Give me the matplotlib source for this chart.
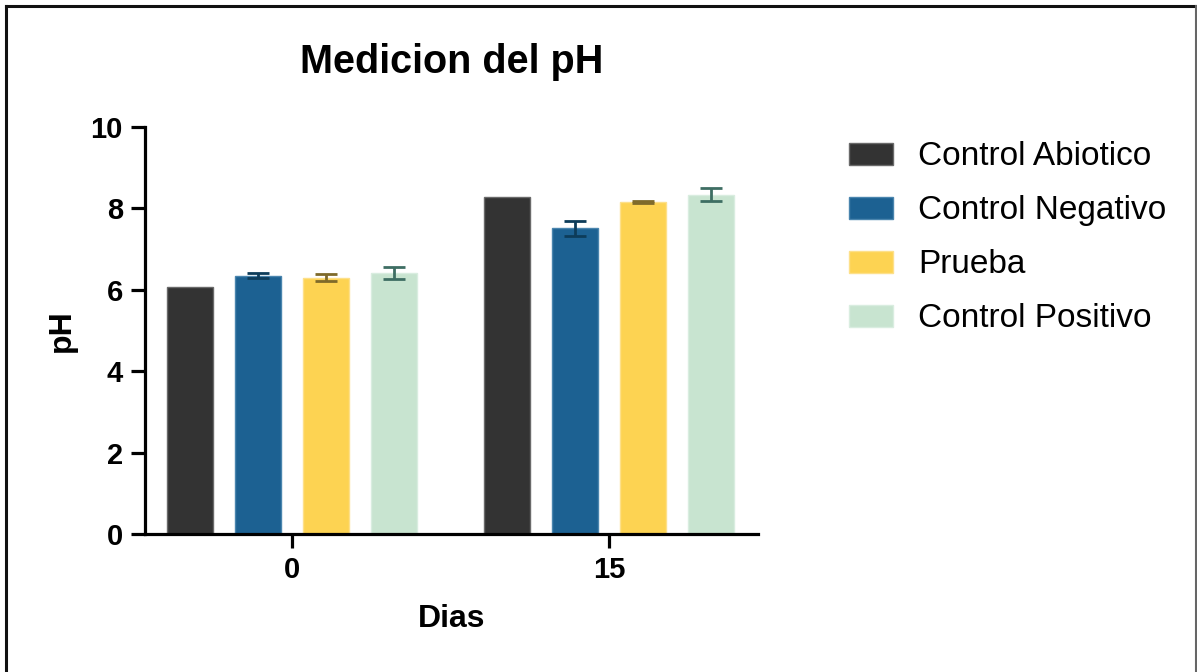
import numpy as np
import matplotlib.pyplot as plt
from matplotlib.lines import Line2D

plt.rcParams['font.family'] = ['Liberation Sans', 'DejaVu Sans']

# mean pH and error per group, days 0 and 15
dias = ['0', '15']
grupos = ['Control Abiotico', 'Control Negativo', 'Prueba', 'Control Positivo']
ph_media = [
    [6.07, 8.27],   # Control Abiotico
    [6.35, 7.51],   # Control Negativo
    [6.30, 8.15],   # Prueba
    [6.42, 8.34],   # Control Positivo
]
ph_error = [
    [0.0, 0.0],
    [0.07, 0.19],
    [0.09, 0.02],
    [0.15, 0.15],
]

colores = ['#333333', '#1c6192', '#fdd352', '#c8e4d0']
bordes = ['#6a6a6a', '#4a85ae', '#fde08a', '#d9ede0']
col_err = ['#222222', '#0d3c5a', '#7f6a2a', '#3e6e63']

fig = plt.figure(figsize=(11.97, 6.72), dpi=100)
ax = fig.add_axes([145/1197, 1 - 534/672, (758-145)/1197, (534-127)/672])

x = np.arange(len(dias))
paso = 0.2145
ancho = 0.1435
for i, g in enumerate(grupos):
    pos = x + (i - 1.5) * paso
    ax.bar(pos, ph_media[i], ancho, color=colores[i], edgecolor=bordes[i],
           linewidth=1, label=g, zorder=2)
    if any(ph_error[i]):
        ax.errorbar(pos, ph_media[i], yerr=ph_error[i], fmt='none',
                    ecolor=col_err[i], elinewidth=2, capsize=8, capthick=2,
                    zorder=3)

ax.set_xlim(-0.4637, 1.470)
ax.set_ylim(0, 10)
ax.set_yticks([0, 2, 4, 6, 8, 10])
ax.set_xticks(x)
ax.set_xticklabels(dias)

for s in ['top', 'right']:
    ax.spines[s].set_visible(False)
for s in ['left', 'bottom']:
    ax.spines[s].set_linewidth(2.3)
ax.tick_params(axis='both', width=2.3, length=10, labelsize=21, pad=6)
for lab in ax.get_xticklabels() + ax.get_yticklabels():
    lab.set_fontweight('bold')

ax.set_ylabel('pH', fontsize=23, fontweight='bold', labelpad=10)
ax.set_xlabel('Dias', fontsize=23, fontweight='bold', labelpad=14)
ax.set_title('Medicion del pH', fontsize=28.5, fontweight='bold', pad=39)

fig.legend(loc='upper left', bbox_to_anchor=(836/1197, 1 - 128/672),
           frameon=False, fontsize=24, handlelength=1.32, handleheight=0.65,
           handletextpad=0.75, labelspacing=0.69, borderaxespad=0)

# outer frame
fig.add_artist(Line2D([5.5/1197, 5.5/1197], [0, 1 - 5.5/672], color='#111111',
                      lw=2.2, transform=fig.transFigure))
fig.add_artist(Line2D([5.5/1197, 1196/1197], [1 - 5.5/672, 1 - 5.5/672],
                      color='#111111', lw=2.2, transform=fig.transFigure))
fig.add_artist(Line2D([1196/1197, 1196/1197], [0, 1 - 5.5/672], color='#666666',
                      lw=1.5, transform=fig.transFigure))

fig.savefig('out.png', dpi=100)
